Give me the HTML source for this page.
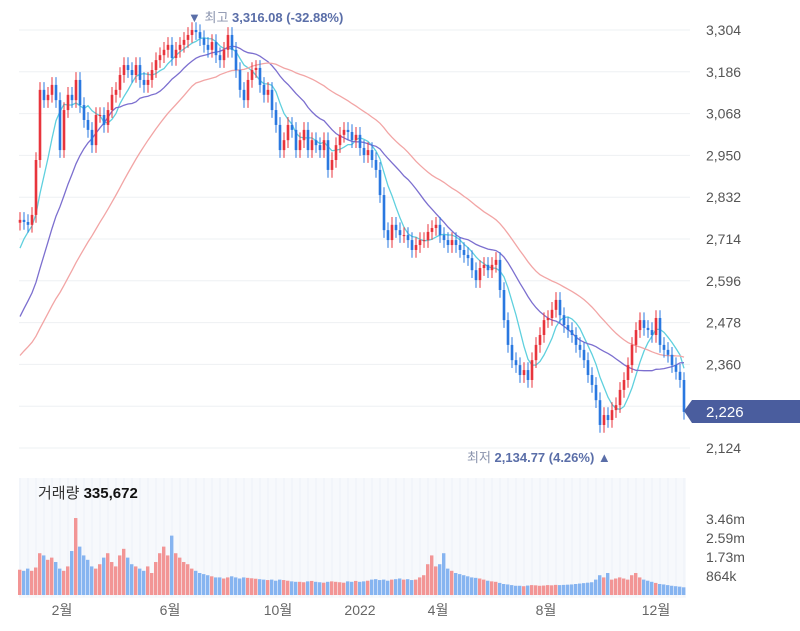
<!DOCTYPE html>
<html><head><meta charset="utf-8">
<style>
body{margin:0;background:#fff;width:800px;height:626px;overflow:hidden;font-family:"Liberation Sans","Noto Sans CJK KR",sans-serif}
svg text{font-family:"Liberation Sans","Noto Sans CJK KR",sans-serif}
</style></head>
<body>
<svg id="chart" width="800" height="626" xmlns="http://www.w3.org/2000/svg">
<rect x="19" y="478" width="667" height="120" fill="#f7f9fc"/>
<g id="grid"></g>
<g id="vol"></g>
<g id="ma"></g>
<g id="candles"></g>
<g id="axis"></g>
<text x="188" y="22" font-size="13" fill="#5a6ea8">▼ <tspan fill="#8a93ad">최고</tspan> <tspan font-weight="bold">3,316.08 (-32.88%)</tspan></text>
<text x="467" y="462" font-size="13" fill="#5a6ea8"><tspan fill="#8a93ad">최저</tspan> <tspan font-weight="bold">2,134.77 (4.26%)</tspan> ▲</text>
<text x="38" y="498" font-size="15" fill="#333">거래량 <tspan font-weight="bold" fill="#111">335,672</tspan></text>
<g>
<path d="M684,411 L692,400 L800,400 L800,423 L692,423 Z" fill="#4a5d9e"/>
<text x="706" y="417" font-size="15" fill="#fff">2,226</text>
</g>
</svg>
<script>
const priorCloses=[2250,2260,2280,2270,2250,2240,2260,2280,2290,2300,2280,2260,2270,2280,2290,2300,2270,2260,2280,2290,2300,2310,2320,2330,2340,2350,2360,2370,2390,2410,2430,2450,2480,2540,2580,2620,2660,2700,2730,2760];
const closes=[2768,2762,2754,2782,2937,3135,3106,3121,3149,3106,2965,3078,3121,3106,3163,3092,3050,3022,2979,3064,3064,3036,3078,3121,3135,3177,3205,3191,3177,3205,3163,3149,3163,3191,3219,3233,3248,3262,3225,3248,3262,3276,3290,3304,3298,3281,3262,3248,3270,3233,3219,3248,3290,3248,3191,3135,3106,3163,3191,3197,3149,3121,3135,3078,3036,2965,2993,3036,3022,2965,2993,3022,2965,2993,2979,2965,2993,2909,2937,2979,3008,3022,3016,2993,3008,2971,2951,2965,2937,2909,2838,2739,2711,2754,2739,2725,2725,2711,2683,2697,2711,2711,2734,2745,2754,2725,2711,2697,2711,2697,2683,2669,2660,2626,2598,2632,2641,2626,2641,2655,2570,2485,2415,2372,2358,2330,2344,2316,2372,2415,2443,2485,2491,2514,2542,2499,2471,2457,2443,2415,2401,2372,2330,2302,2259,2189,2217,2203,2231,2245,2288,2316,2358,2415,2457,2485,2463,2457,2443,2491,2415,2401,2387,2358,2339,2316,2226];
const volumes=[1150,1100,1200,1100,1250,1900,1800,1600,1700,1500,1200,1100,1300,2000,3500,2200,1800,1600,1300,1200,1400,1700,1900,1500,1300,1800,2100,1700,1400,1300,1200,1100,1300,1000,1500,1900,2200,1800,2700,1900,1700,1500,1400,1200,1100,1000,950,900,850,800,800,750,800,850,800,750,800,780,760,740,720,700,680,700,650,700,680,650,620,600,600,580,620,640,600,580,560,600,620,600,580,560,620,600,640,600,620,650,700,720,680,700,650,700,720,750,700,720,680,700,800,900,1400,1800,1300,1400,1900,1200,1100,1000,950,900,850,800,780,750,700,650,620,600,550,500,480,450,420,420,400,430,450,440,420,430,450,440,460,450,460,470,480,500,520,540,560,580,700,900,800,1000,700,750,800,750,700,900,1000,800,700,650,600,550,500,480,450,420,400,380,350];
const yTicks=[3304,3186,3068,2950,2832,2714,2596,2478,2360,2242,2124];
const yTickLabels=["3,304","3,186","3,068","2,950","2,832","2,714","2,596","2,478","2,360","","2,124"];
const volTicks=[3460,2590,1730,864];
const volTickLabels=["3.46m","2.59m","1.73m","864k"];
const monthLabels=["2월","6월","10월","2022","4월","8월","12월"];
const monthIdx=[10.5,37.5,64.5,85,104.5,131.5,159];
const maWindows=[7,20,40];
const maColors=["#5fd0de","#7c6fcf","#f2a5a5"];

const NS="http://www.w3.org/2000/svg";
const n=closes.length;
const X0=20,X1=684;
function xs(i){return X0+i*(X1-X0)/(n-1);}
function ys(v){return 30+(3304-v)*418/1180;}
function vs(v){return 595-v*19/864;}
function mk(t,a,p){const e=document.createElementNS(NS,t);for(const k in a)e.setAttribute(k,a[k]);p.appendChild(e);return e;}
const grid=document.getElementById('grid'),axis=document.getElementById('axis');
yTicks.forEach((t,i)=>{
  const l=mk('line',{x1:19,x2:690,y1:ys(t),y2:ys(t),stroke:'#eef0f3','stroke-width':1},grid);
  
  
  if(yTickLabels[i]){
    const tx=mk('text',{x:706,y:ys(t)+5,'font-size':14,fill:'#555'},axis);tx.textContent=yTickLabels[i];
    
    
  }
});
for(let i=0;i<n;i+=2){
  const l=mk('line',{x1:xs(i),x2:xs(i),y1:478,y2:597,stroke:'#eef1f7','stroke-width':1},grid);
  
  
}
volTicks.forEach((t,i)=>{
  const tx=mk('text',{x:706,y:vs(t)+5,'font-size':14,fill:'#555'},axis);tx.textContent=volTickLabels[i];
  
  
});
monthIdx.forEach((m,i)=>{
  const tx=mk('text',{x:xs(m),y:615,'font-size':14,fill:'#666','text-anchor':'middle'},axis);tx.textContent=monthLabels[i];
  
  
});
const vol=document.getElementById('vol'),cg=document.getElementById('candles'),mg=document.getElementById('ma');
const bw=(X1-X0)/(n-1);
for(let i=0;i<n;i++){
  const o=i?closes[i-1]:priorCloses[priorCloses.length-1],c=closes[i];
  const up=c>=o;
  const vb=mk('rect',{x:xs(i)-bw/2,y:vs(volumes[i]),width:bw-0.6,height:595-vs(volumes[i]),fill:up?'#f29595':'#86b4f0'},vol);
  
  
  const hi=Math.max(o,c)+22,lo=Math.min(o,c)-22,col=up?'#e8343c':'#2a78e0';
  const w=mk('line',{x1:xs(i),x2:xs(i),y1:ys(hi),y2:ys(lo),stroke:col,'stroke-width':1},cg);
  
  
  const top=ys(Math.max(o,c)),bot=ys(Math.min(o,c));
  const b=mk('rect',{x:xs(i)-1.3,y:top,width:2.6,height:Math.max(1,bot-top),fill:col},cg);
  
  
}
const all=priorCloses.concat(closes),P=priorCloses.length;
maWindows.forEach((w,k)=>{
  let d='';
  for(let i=0;i<n;i++){
    let s=0;for(let j=P+i-w+1;j<=P+i;j++)s+=all[j];
    d+=(i?'L':'M')+xs(i).toFixed(1)+','+ys(s/w).toFixed(1);
  }
  const p=mk('path',{d:d,fill:'none',stroke:maColors[k],'stroke-width':1.3},mg);
  
  
});
</script>
</body></html>
